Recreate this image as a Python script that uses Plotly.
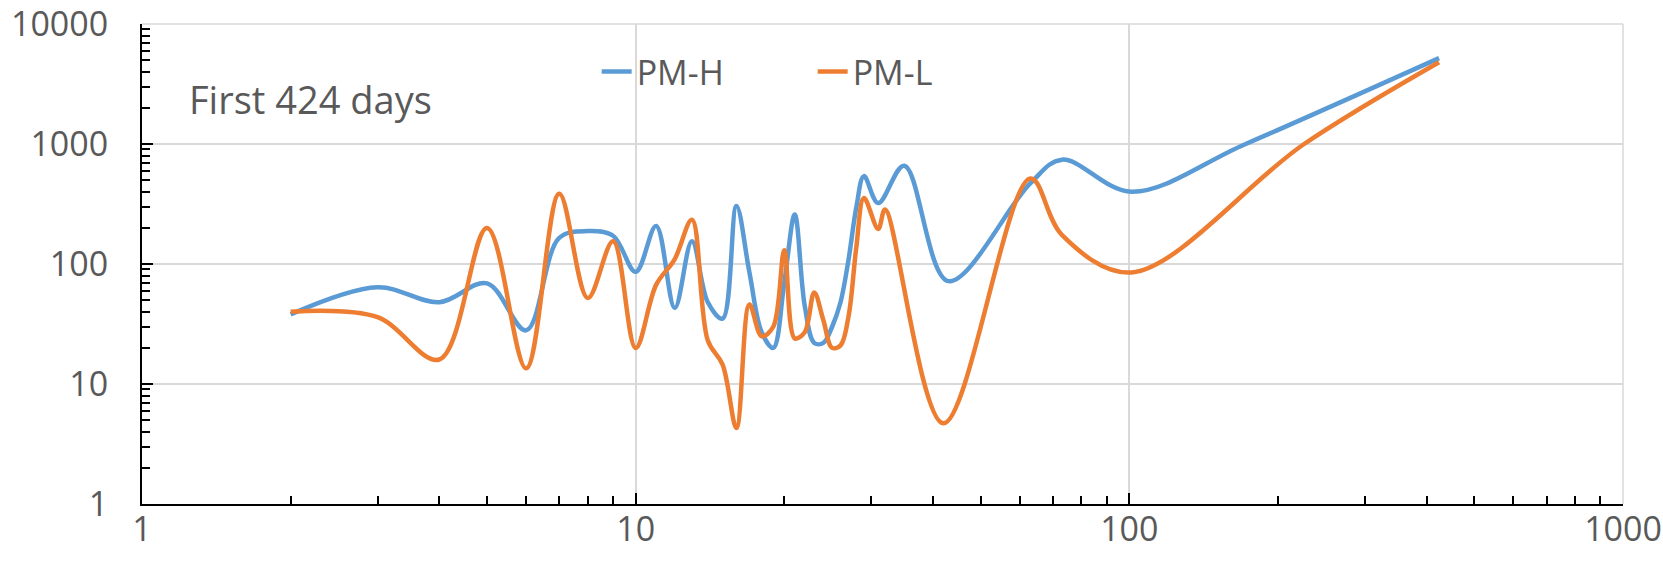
import plotly.graph_objects as go

# Days (x) and values for each series
days_h = [2, 3, 4, 5, 6, 7, 8, 9, 10, 11, 12, 13, 14, 15, 16, 17, 18, 19, 20, 21,
          22, 23, 24, 25, 26, 27, 28, 29, 31, 35, 43, 63, 73, 101, 172, 424]
pm_h = [38, 64, 48, 69, 28, 165, 188, 172, 86, 207, 43, 155, 48, 35, 305, 85, 27, 20, 70, 258,
        45, 22, 22, 30, 48, 110, 300, 540, 322, 660, 72, 470, 740, 400, 1000, 5200]

days_l = [2, 3, 4, 5, 6, 7, 8, 9, 10, 11, 12, 13, 14, 15, 16, 17, 18, 19, 20, 21,
          22, 23, 24, 25, 26, 27, 28, 29, 31, 32, 42, 63, 73, 101, 226, 424]
pm_l = [40, 36, 16, 200, 13.5, 385, 52, 155, 20, 67, 110, 234, 23, 14.5, 4.3, 46, 25, 30, 130, 24,
        27, 58, 34, 20, 21, 37, 140, 355, 196, 285, 4.7, 515, 175, 85, 1000, 4800]

x_ticks = [1, 10, 100, 1000]
y_ticks = [1, 10, 100, 1000, 10000]
series_names = ["PM-H", "PM-L"]
colors = ["#5B9BD5", "#ED7D31"]
note = "First 424 days"

font_family = "Open Sans"
text_color = "#595959"
grid_color = "#D9D9D9"

fig = go.Figure()
fig.add_trace(go.Scatter(x=days_h, y=pm_h, name=series_names[0], mode="lines",
                         line=dict(color=colors[0], width=4.5, shape="spline", smoothing=1)))
fig.add_trace(go.Scatter(x=days_l, y=pm_l, name=series_names[1], mode="lines",
                         line=dict(color=colors[1], width=4.5, shape="spline", smoothing=1)))

axis_common = dict(
    showline=True, linecolor="black", linewidth=2,
    showgrid=True, gridcolor=grid_color, gridwidth=1.5,
    ticks="inside", ticklen=11, tickwidth=2, tickcolor="black",
    zeroline=False, automargin=False, ticklabeloverflow="allow",
    tickfont=dict(family=font_family, size=34, color=text_color),
    minor=dict(ticks="inside", ticklen=8, tickwidth=1.5, tickcolor="black",
               showgrid=False, dtick="D1"),
)

fig.update_xaxes(type="log", range=[0, 3], tickvals=x_ticks,
                 ticktext=[str(v) for v in x_ticks], ticklabelstandoff=-6, **axis_common)
fig.update_yaxes(type="log", range=[0, 4], tickvals=y_ticks,
                 ticktext=[str(v) for v in y_ticks], ticklabelstandoff=25, **axis_common)

# light grey frame lines at the top (10000) and right (1000) edges, like the grid
fig.add_shape(type="line", xref="paper", yref="paper", x0=0, x1=1, y0=1, y1=1,
              line=dict(color=grid_color, width=1.5), layer="below")
fig.add_shape(type="line", xref="paper", yref="paper", x0=1, x1=1, y0=0, y1=1,
              line=dict(color=grid_color, width=1.5), layer="below")

fig.add_annotation(text=note, xref="paper", yref="paper", x=0.0305, y=0.844,
                   xanchor="left", yanchor="middle", showarrow=False,
                   font=dict(family=font_family, size=38, color=text_color))

fig.update_layout(
    width=1663, height=568,
    margin=dict(l=142, r=40, t=24, b=64),
    paper_bgcolor="white", plot_bgcolor="white",
    showlegend=True,
    legend=dict(orientation="h", x=0.307, xanchor="left", y=0.90, yanchor="middle",
                font=dict(family=font_family, size=34, color=text_color),
                bgcolor="rgba(0,0,0,0)", entrywidth=171, entrywidthmode="pixels",
                itemwidth=30),
    font=dict(family=font_family, color=text_color),
)

fig.write_html("out.html")
